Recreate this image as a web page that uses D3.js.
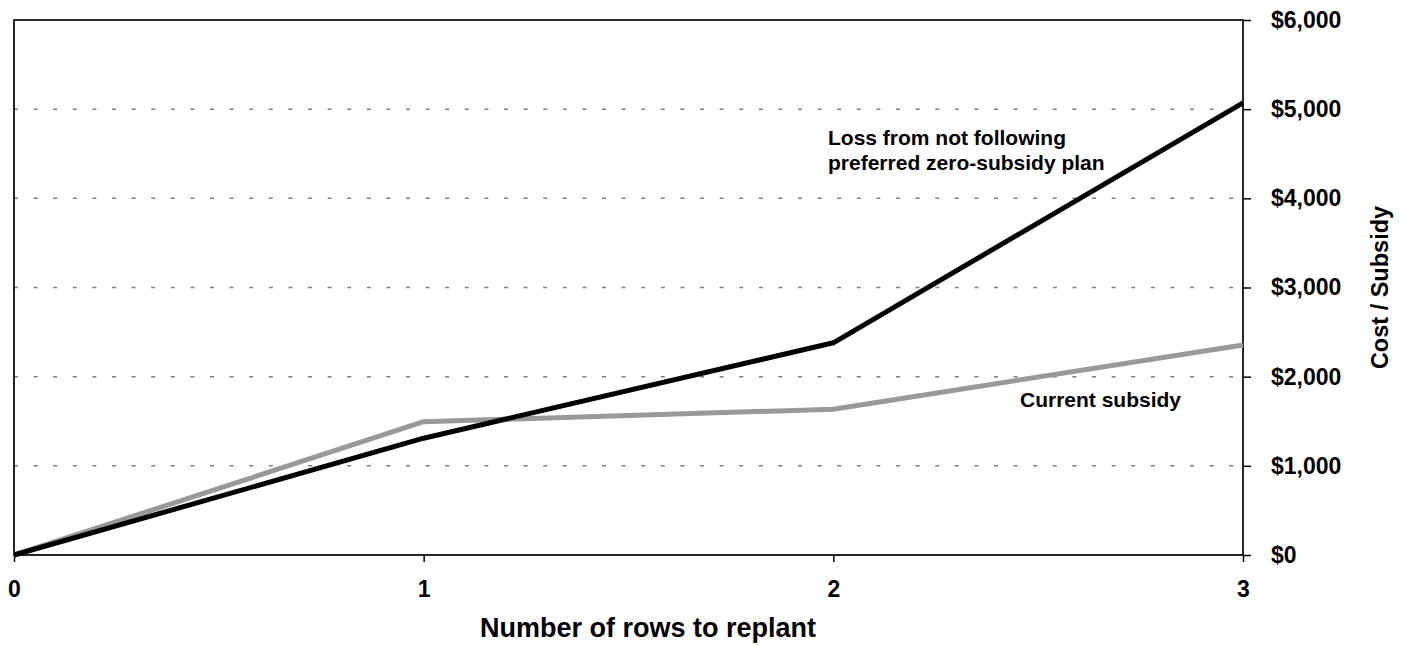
<!DOCTYPE html>
<html>
<head>
<meta charset="utf-8">
<script src="https://cdn.jsdelivr.net/npm/d3@7"></script>
<style>
	body { margin:0; background:#fff; }
	text { font-family: Arial, "Liberation Sans", sans-serif; font-weight: bold; fill:#000; }
</style>
</head>
<body>
<div id="chart"></div>
<script>
// rows replanted
let rows = [0, 1, 2, 3]
// loss from not following preferred zero-subsidy plan ($)
let lossValues = [0, 1310, 2380, 5070]
// current subsidy ($)
let subsidyValues = [0, 1495, 1635, 2355]
let costTicks = [0, 1000, 2000, 3000, 4000, 5000, 6000]
let gridTicks = [1000, 2000, 3000, 4000, 5000]
let lossLabel = ["Loss from not following", "preferred zero-subsidy plan"]
let subsidyLabel = "Current subsidy"

let fullWidth = 1405
let fullHeight = 645
let margin = { top: 20, right: 162, bottom: 90, left: 14 }
let width = 1243 - margin.left
let height = 555 - margin.top

let svg = d3.select("#chart")
	.append("svg")
	.attr("width", fullWidth)
	.attr("height", fullHeight)

let g = svg.append("g")
	.attr("transform", `translate(${margin.left},${margin.top})`)

let xScale = d3.scaleLinear().domain([0, 3]).range([0, width])
let yScale = d3.scaleLinear().domain([0, 6000]).range([height, 0])

// dotted grid
g.selectAll(".grid")
	.data(gridTicks)
	.enter()
	.append("line")
	.attr("class", "grid")
	.attr("x1", 0)
	.attr("x2", width)
	.attr("y1", d => yScale(d))
	.attr("y2", d => yScale(d))
	.attr("stroke", "#808080")
	.attr("stroke-width", 1.5)
	.attr("stroke-dasharray", "4,15.6")

// frame
g.append("rect")
	.attr("width", width)
	.attr("height", height)
	.attr("fill", "none")
	.attr("stroke", "#000")
	.attr("stroke-width", 1.7)

let yAxis = d3.axisRight(yScale)
	.tickValues(costTicks)
	.tickSize(8)
	.tickSizeOuter(0)
	.tickPadding(20)
	.tickFormat(d => "$" + d3.format(",")(d))

let xAxis = d3.axisBottom(xScale)
	.tickValues(rows)
	.tickSize(7)
	.tickSizeOuter(0)
	.tickPadding(19)
	.tickFormat(d3.format("d"))

g.append("g")
	.attr("class", "y axis")
	.attr("transform", `translate(${width},0)`)
	.call(yAxis)

g.append("g")
	.attr("class", "x axis")
	.attr("transform", `translate(0,${height})`)
	.call(xAxis)

g.selectAll(".axis .domain").remove()
g.selectAll(".axis line").attr("stroke", "#000").attr("stroke-width", 1.5)
g.selectAll(".axis text")
	.attr("fill", "#000")
	.style("font-size", "23px")
	.style("font-family", "Arial, 'Liberation Sans', sans-serif")
	.style("font-weight", "bold")
g.selectAll(".x.axis text").attr("dy", "0.71em")

let lineGenerator = values => d3.line()
	.x((d, i) => xScale(rows[i]))
	.y(d => yScale(d))(values)

g.append("path")
	.attr("class", "line subsidy")
	.attr("d", lineGenerator(subsidyValues))
	.attr("fill", "none")
	.attr("stroke", "#999999")
	.attr("stroke-width", 5)
	.attr("stroke-linejoin", "round")

g.append("path")
	.attr("class", "line loss")
	.attr("d", lineGenerator(lossValues))
	.attr("fill", "none")
	.attr("stroke", "#000")
	.attr("stroke-width", 5)
	.attr("stroke-linejoin", "round")

// series labels
svg.append("text")
	.attr("x", 828)
	.attr("y", 145)
	.style("font-size", "21px")
	.selectAll("tspan")
	.data(lossLabel)
	.enter()
	.append("tspan")
	.attr("x", 828)
	.attr("dy", (d, i) => i ? 25 : 0)
	.text(d => d)

svg.append("text")
	.attr("x", 1020)
	.attr("y", 407)
	.style("font-size", "21px")
	.text(subsidyLabel)

// axis titles
svg.append("text")
	.attr("x", 648)
	.attr("y", 637)
	.attr("text-anchor", "middle")
	.style("font-size", "27px")
	.text("Number of rows to replant")

svg.append("text")
	.attr("transform", `translate(1388,${margin.top + height / 2}) rotate(-90)`)
	.attr("text-anchor", "middle")
	.style("font-size", "23.5px")
	.text("Cost / Subsidy")
</script>
</body>
</html>
